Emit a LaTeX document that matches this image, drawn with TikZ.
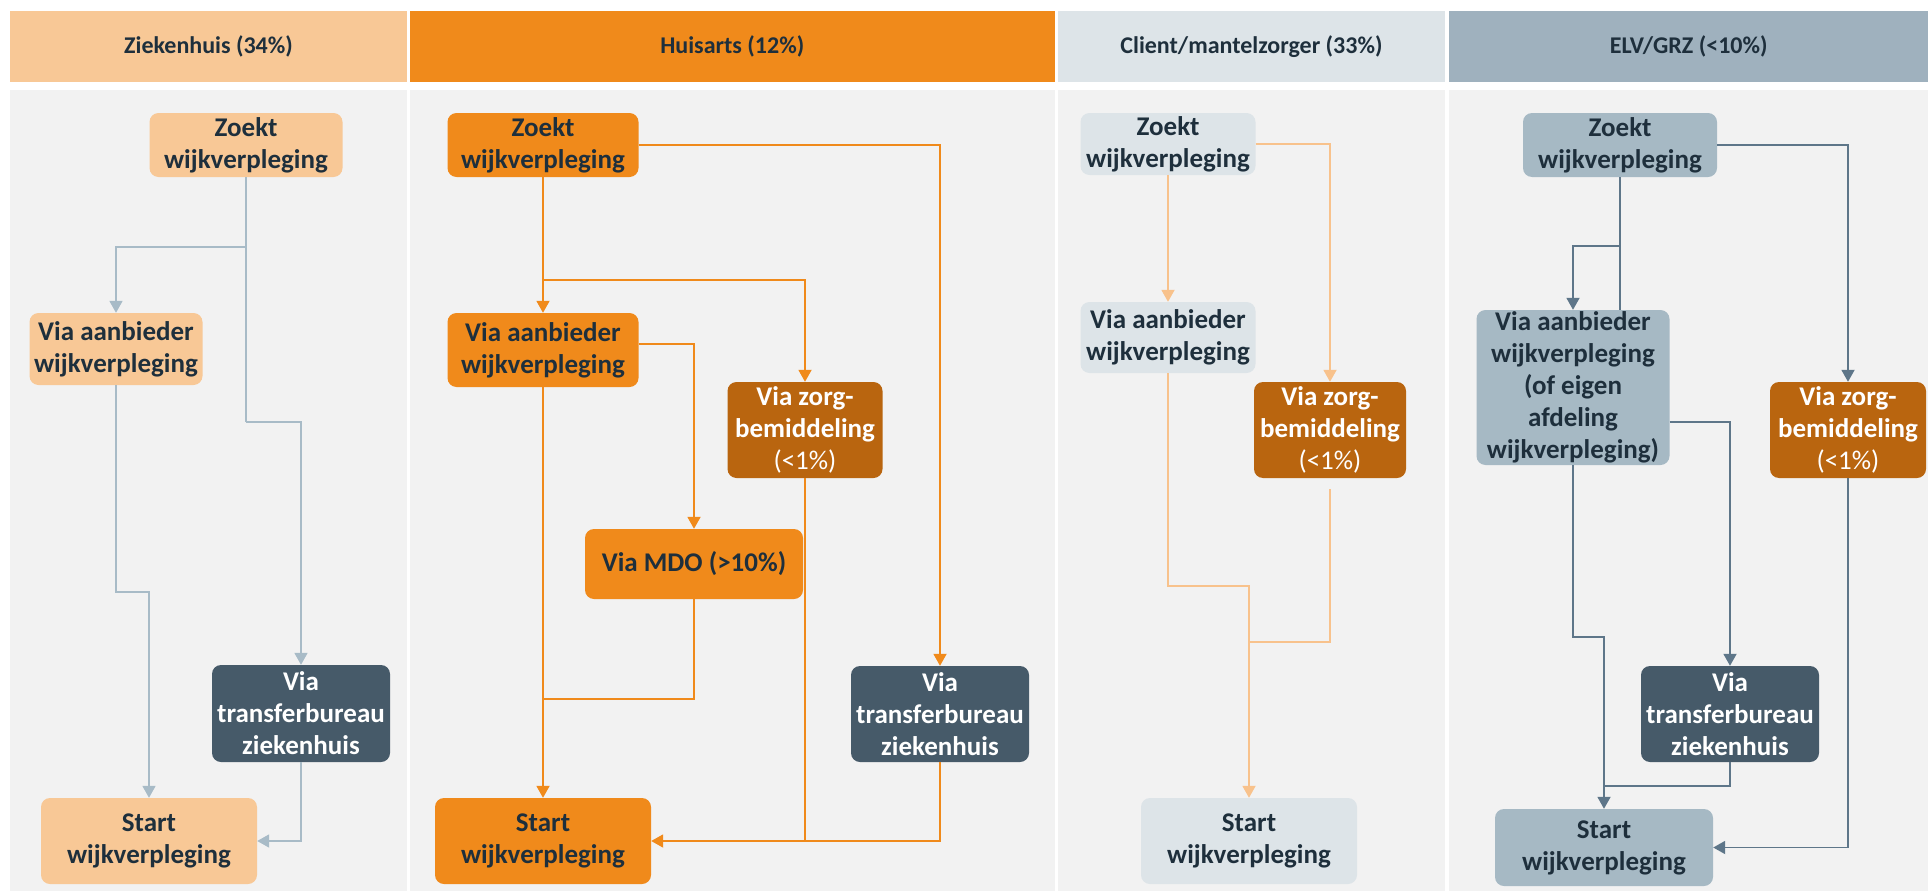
\documentclass[tikz,border=0pt]{standalone}
\usepackage{fontspec}
\setmainfont{Carlito}
\usetikzlibrary{arrows.meta,positioning}
\definecolor{panel}{HTML}{F2F2F2}
\definecolor{ink}{HTML}{1E2F3C}
\definecolor{zhlight}{HTML}{F8C896}
\definecolor{haorange}{HTML}{F08A1B}
\definecolor{zorgbrown}{HTML}{B9650F}
\definecolor{cmlight}{HTML}{DDE4E8}
\definecolor{eghead}{HTML}{9FB1BE}
\definecolor{egbox}{HTML}{A6B9C4}
\definecolor{slate}{HTML}{465A69}
\definecolor{zhedge}{HTML}{A8BBC7}
\definecolor{cmedge}{HTML}{F8C28C}
\definecolor{egedge}{HTML}{5E7689}
\newcommand{\boxfont}{\fontsize{27}{32}\selectfont\bfseries}
\newcommand{\headfont}{\fontsize{24}{28}\selectfont\bfseries}

\begin{document}
\begin{tikzpicture}[x=1pt, y=-1pt, >={Triangle[length=12pt,width=13pt]}]
        % Styles
        \tikzstyle{lane} = [rectangle, fill=panel, inner sep=0pt, anchor=north west, minimum height=801pt]
        \tikzstyle{head} = [rectangle, inner sep=0pt, text=ink, font=\headfont, anchor=north west, minimum height=71.6pt]
        \tikzstyle{flowbox} = [rectangle, rounded corners=9pt, align=center, inner sep=0pt, text=ink, font=\boxfont]
        \tikzstyle{darkbox} = [flowbox, text=white]
        \tikzstyle{line} = [draw, ->, line width=1.8pt]
        \tikzstyle{link} = [draw, line width=1.8pt]
        \tikzstyle{zhflow} = [draw=zhedge]
        \tikzstyle{haflow} = [draw=haorange]
        \tikzstyle{cmflow} = [draw=cmedge]
        \tikzstyle{egflow} = [draw=egedge]

        \fill [white] (0,0) rectangle (1928,891);
        \useasboundingbox (0,0) rectangle (1928,891);

        % Lanes and headers
        \node [lane, minimum width=396.6pt] (zh_lane) at (10,90) {};
        \node [lane, minimum width=645.1pt] (ha_lane) at (409.5,90) {};
        \node [lane, minimum width=387.5pt] (cm_lane) at (1057.5,90) {};
        \node [lane, minimum width=479pt] (eg_lane) at (1449,90) {};
        \node [head, fill=zhlight, minimum width=396.6pt] (zh_head) at (10,10.7) {Ziekenhuis (34\%)};
        \node [head, fill=haorange, minimum width=645.1pt] (ha_head) at (409.5,10.7) {Huisarts (12\%)};
        \node [head, fill=cmlight, minimum width=387.5pt] (cm_head) at (1057.5,10.7) {Client/mantelzorger (33\%)};
        \node [head, fill=eghead, minimum width=479pt] (eg_head) at (1449,10.7) {ELV/GRZ (<10\%)};

        % Nodes: Ziekenhuis
        \node [flowbox, fill=zhlight, minimum width=193pt, minimum height=64pt] (zh_zoek) at (246,145) {Zoekt\\wijkverpleging};
        \node [flowbox, fill=zhlight, minimum width=173pt, minimum height=72pt] (zh_aanb) at (116,349) {Via aanbieder\\wijkverpleging};
        \node [darkbox, fill=slate, minimum width=178pt, minimum height=97pt] (zh_trans) at (301,713.5) {Via\\transferbureau\\ziekenhuis};
        \node [flowbox, fill=zhlight, minimum width=216pt, minimum height=86pt] (zh_start) at (149,841) {Start\\wijkverpleging};

        % Nodes: Huisarts
        \node [flowbox, fill=haorange, minimum width=191pt, minimum height=64pt] (ha_zoek) at (543,145) {Zoekt\\wijkverpleging};
        \node [flowbox, fill=haorange, minimum width=191pt, minimum height=74pt] (ha_aanb) at (543,350) {Via aanbieder\\wijkverpleging};
        \node [darkbox, fill=zorgbrown, minimum width=155pt, minimum height=96pt] (ha_zorg) at (805,430) {Via zorg-\\bemiddeling\\\mdseries(<1\%)};
        \node [flowbox, fill=haorange, minimum width=218pt, minimum height=70pt] (ha_mdo) at (694,564) {Via MDO (>10\%)};
        \node [darkbox, fill=slate, minimum width=178pt, minimum height=96pt] (ha_trans) at (940,714) {Via\\transferbureau\\ziekenhuis};
        \node [flowbox, fill=haorange, minimum width=216pt, minimum height=86pt] (ha_start) at (543,841) {Start\\wijkverpleging};

        % Nodes: Client/mantelzorger
        \node [flowbox, fill=cmlight, minimum width=175pt, minimum height=62pt] (cm_zoek) at (1168,144) {Zoekt\\wijkverpleging};
        \node [flowbox, fill=cmlight, minimum width=175pt, minimum height=71pt] (cm_aanb) at (1168,337.5) {Via aanbieder\\wijkverpleging};
        \node [darkbox, fill=zorgbrown, minimum width=152pt, minimum height=96pt] (cm_zorg) at (1330,430) {Via zorg-\\bemiddeling\\\mdseries(<1\%)};
        \node [flowbox, fill=cmlight, minimum width=216pt, minimum height=86pt] (cm_start) at (1249,841) {Start\\wijkverpleging};

        % Nodes: ELV/GRZ
        \node [flowbox, fill=egbox, minimum width=194pt, minimum height=64pt] (eg_zoek) at (1620,145) {Zoekt\\wijkverpleging};
        \node [flowbox, fill=egbox, minimum width=193pt, minimum height=155pt] (eg_aanb) at (1573,387.5) {Via aanbieder\\wijkverpleging\\(of eigen\\afdeling\\wijkverpleging)};
        \node [darkbox, fill=zorgbrown, minimum width=156pt, minimum height=96pt] (eg_zorg) at (1848,430) {Via zorg-\\bemiddeling\\\mdseries(<1\%)};
        \node [darkbox, fill=slate, minimum width=178pt, minimum height=96pt] (eg_trans) at (1730,714) {Via\\transferbureau\\ziekenhuis};
        \node [flowbox, fill=egbox, minimum width=218pt, minimum height=77pt] (eg_start) at (1604,847.5) {Start\\wijkverpleging};

        % Bend points
        \coordinate (zh_split) at (246,247);
        \coordinate (zh_bend) at (246,422);
        \coordinate (zh_drop) at (116,592);
        \coordinate (ha_split) at (543,280);
        \coordinate (ha_join) at (543,699);
        \coordinate (cm_drop) at (1168,586);
        \coordinate (cm_join) at (1249,642);
        \coordinate (eg_split) at (1620,246);
        \coordinate (eg_drop) at (1573,637);

        % Edges: Ziekenhuis
        \path [link, zhflow] (zh_zoek.south) -- (zh_bend);
        \path [line, zhflow] (zh_split) -| (zh_aanb.north);
        \path [line, zhflow] (zh_bend) -| (zh_trans.north);
        \path [line, zhflow] (zh_aanb.south) -- (zh_drop) -| (zh_start.north);
        \path [line, zhflow] (zh_trans.south) |- (zh_start.east);

        % Edges: Huisarts
        \path [line, haflow] (ha_zoek.south) -- (ha_aanb.north);
        \path [line, haflow] (ha_split) -| (ha_zorg.north);
        \path [line, haflow] (ha_zoek.east) -| (ha_trans.north);
        \path [line, haflow] (ha_aanb.east |- 0,344) -| (ha_mdo.north);
        \path [line, haflow] (ha_aanb.south) -- (ha_start.north);
        \path [link, haflow] (ha_mdo.south) |- (ha_join);
        \path [line, haflow] (ha_zorg.south) |- (ha_start.east);
        \path [link, haflow] (ha_trans.south) |- (ha_zorg.south |- ha_start.east);

        % Edges: Client/mantelzorger
        \path [line, cmflow] (cm_zoek.south) -- (cm_aanb.north);
        \path [line, cmflow] (cm_zoek.east) -| (cm_zorg.north);
        \path [line, cmflow] (cm_aanb.south) -- (cm_drop) -| (cm_start.north);
        \path [link, cmflow, shorten <=11pt] (cm_zorg.south) |- (cm_join);

        % Edges: ELV/GRZ
        \path [link, egflow] (eg_zoek.south) -- (eg_zoek.south |- eg_aanb.north);
        \path [line, egflow] (eg_split) -| (eg_aanb.north);
        \path [line, egflow] (eg_zoek.east) -| (eg_zorg.north);
        \path [line, egflow] (eg_aanb.east |- 0,422) -| (eg_trans.north);
        \path [line, egflow] (eg_aanb.south) -- (eg_drop) -| (eg_start.north);
        \path [link, egflow] (eg_trans.south) |- (eg_start.north |- 0,786);
        \path [line, egflow] (eg_zorg.south) |- (eg_start.east);

    \end{tikzpicture}
\end{document}
